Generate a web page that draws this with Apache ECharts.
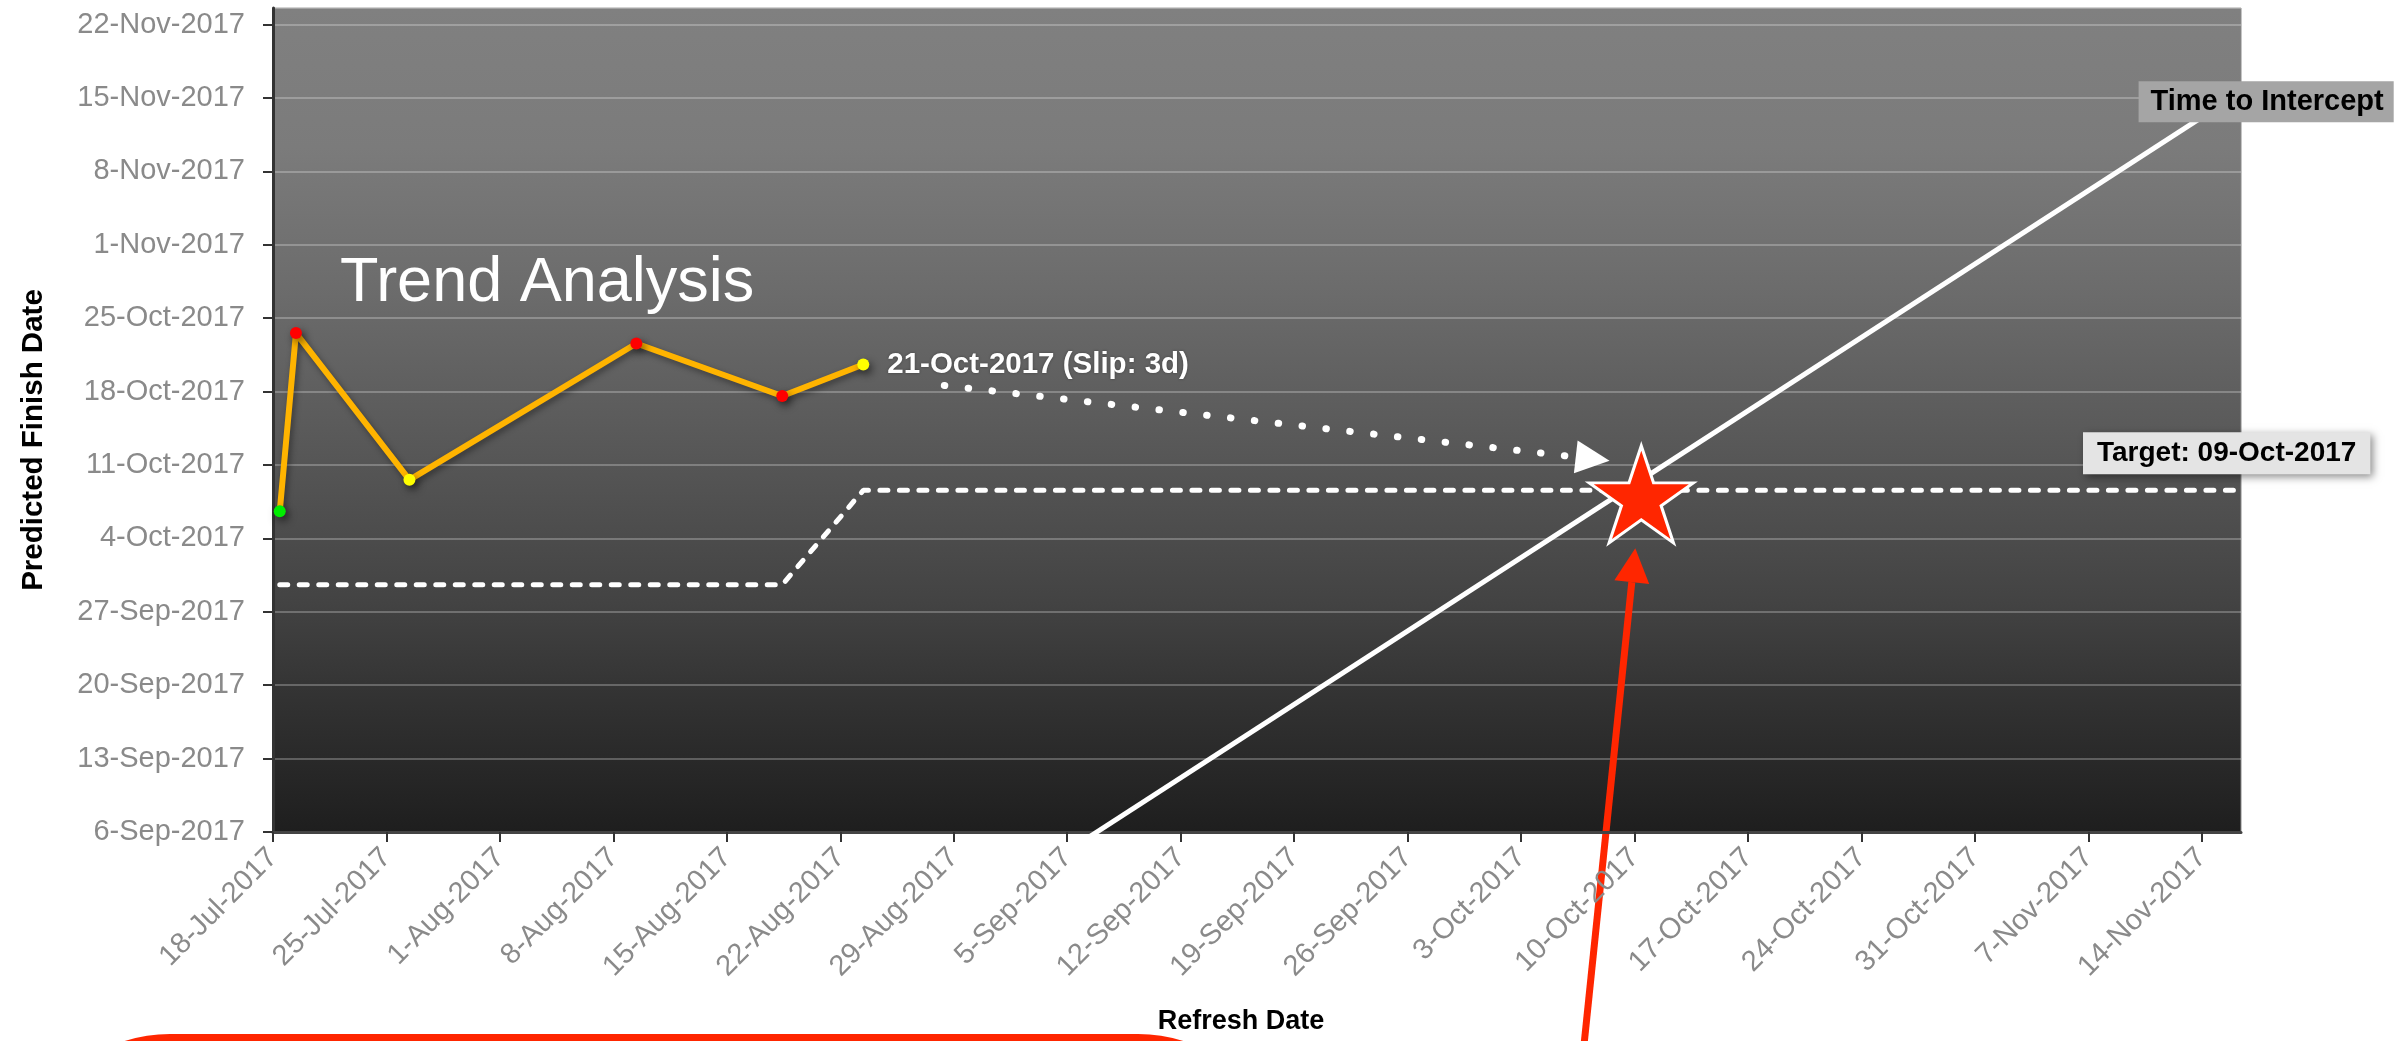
<!DOCTYPE html>
<html>
<head>
<meta charset="utf-8">
<title>Trend Analysis</title>
<script src="https://cdn.jsdelivr.net/npm/echarts@6/dist/echarts.min.js"></script>
<style>
  html, body { margin: 0; padding: 0; background: #fff; }
  #main { width: 2398px; height: 1041px; }
</style>
</head>
<body>
<div id="main"></div>
<script>
var MONTHS = ['Jan', 'Feb', 'Mar', 'Apr', 'May', 'Jun', 'Jul', 'Aug', 'Sep', 'Oct', 'Nov', 'Dec'];

// predicted finish at each schedule refresh
var refreshDates = ['18-Jul-2017', '19-Jul-2017', '26-Jul-2017', '9-Aug-2017', '18-Aug-2017', '23-Aug-2017'];
var predictedFinish = ['7-Oct-2017', '24-Oct-2017', '10-Oct-2017', '23-Oct-2017', '18-Oct-2017', '21-Oct-2017'];
var finishStatus = ['ok', 'late', 'risk', 'late', 'late', 'risk'];

// target finish (re-baselined in August)
var targetRefresh = ['18-Jul-2017', '18-Aug-2017', '23-Aug-2017', '16-Nov-2017'];
var targetFinish = ['30-Sep-2017', '30-Sep-2017', '9-Oct-2017', '9-Oct-2017'];

// time to intercept: refresh date == finish date
var interceptRefresh = ['6-Sep-2017', '14-Nov-2017'];
var interceptFinish = ['6-Sep-2017', '14-Nov-2017'];

// projection arrow and intercept star
var projectionRefresh = ['28-Aug-2017', '7-Oct-2017'];
var projectionFinish = ['19-Oct-2017', '12-Oct-2017'];
var starRefresh = '10-Oct-2017';
var starFinish = '9-Oct-2017';

// axes
var xFirstTick = '18-Jul-2017', xLast = '16-Nov-2017';
var yFirstTick = '6-Sep-2017', yLast = '24-Nov-2017';
var tickDays = 7;
// the source chart's weekly ticks sit about 10h off the data midnights
var TICK_SHIFT_H = 10;

var STATUS_COLORS = { ok: '#00ee00', late: '#ff0000', risk: '#ffff00' };
var FONT = 'Liberation Sans, Arial, sans-serif';

function dayNum(s) {
  var p = s.split('-');
  return Date.UTC(+p[2], MONTHS.indexOf(p[1]), +p[0]) / 864e5;
}
function fmtDay(d, pad) {
  var dt = new Date(Math.round(d) * 864e5);
  var dd = dt.getUTCDate();
  return (pad && dd < 10 ? '0' + dd : dd) + '-' + MONTHS[dt.getUTCMonth()] + '-' + dt.getUTCFullYear();
}
var X0 = dayNum(xFirstTick) - TICK_SHIFT_H / 24;
var Y0 = dayNum(yFirstTick) + TICK_SHIFT_H / 24;
function xv(s) { return dayNum(s) - X0; }
function yv(s) { return dayNum(s) - Y0; }

function pairs(xs, ys) {
  return xs.map(function (x, i) { return [xv(x), yv(ys[i])]; });
}

var trendData = refreshDates.map(function (d, i) {
  return {
    value: [xv(d), yv(predictedFinish[i])],
    itemStyle: { color: STATUS_COLORS[finishStatus[i]] }
  };
});
var lastIdx = predictedFinish.length - 1;
var slipDays = Math.round(dayNum(predictedFinish[lastIdx]) - dayNum(predictedFinish[lastIdx - 1]));
var slipText = predictedFinish[lastIdx] + ' (Slip: ' + slipDays + 'd)';
var targetText = 'Target: ' + fmtDay(dayNum(targetFinish[targetFinish.length - 1]), true);

var chartDom = document.getElementById('main');
var myChart = echarts.init(chartDom);
var option;

option = {
  animation: false,
  textStyle: { fontFamily: FONT },
  title: {
    text: 'Trend Analysis',
    left: 335,
    top: 247,
    textStyle: { color: '#fff', fontSize: 63, fontWeight: 'normal', fontFamily: FONT }
  },
  grid: {
    show: true,
    left: 273,
    right: 157,
    top: 8,
    bottom: 209,
    borderWidth: 1,
    borderColor: '#8a8a8a',
    backgroundColor: new echarts.graphic.LinearGradient(0, 0, 0, 1, [
      { offset: 0, color: '#808080' },
      { offset: 0.17, color: '#7b7b7b' },
      { offset: 0.35, color: '#6b6b6b' },
      { offset: 0.54, color: '#575757' },
      { offset: 0.72, color: '#434343' },
      { offset: 0.84, color: '#323232' },
      { offset: 1, color: '#1e1e1e' }
    ])
  },
  xAxis: {
    type: 'value',
    min: 0,
    max: xv(xLast),
    interval: tickDays,
    name: 'Refresh Date',
    nameLocation: 'middle',
    nameGap: 176,
    nameTextStyle: { fontSize: 27, fontWeight: 'bold', color: '#000', padding: [0, 32, 0, 0] },
    axisLine: { lineStyle: { color: '#444', width: 3 } },
    axisTick: { show: true, length: 10, lineStyle: { color: '#333', width: 2 } },
    splitLine: { show: false },
    axisLabel: {
      rotate: 45,
      margin: 21,
      verticalAlign: 'middle',
      padding: [12, 0, 0, 0],
      fontSize: 29,
      color: '#8a8a8a',
      showMaxLabel: false,
      formatter: function (v) { return fmtDay(v + X0); }
    }
  },
  yAxis: {
    type: 'value',
    min: 0,
    max: yv(yLast),
    interval: tickDays,
    name: 'Predicted Finish Date',
    nameLocation: 'middle',
    nameGap: 224,
    nameTextStyle: { fontSize: 29.5, fontWeight: 'bold', color: '#000', padding: [0, 40, 0, 0] },
    axisLine: { show: true, lineStyle: { color: '#333', width: 3 } },
    axisTick: { show: true, length: 10, lineStyle: { color: '#333', width: 2 } },
    splitLine: { show: true, lineStyle: { color: 'rgba(255,255,255,0.25)', width: 2 } },
    axisLabel: {
      margin: 28,
      fontSize: 29,
      color: '#8a8a8a',
      showMaxLabel: false,
      formatter: function (v) { return fmtDay(v + Y0); }
    }
  },
  series: [
    {
      name: 'Target',
      type: 'line',
      data: pairs(targetRefresh, targetFinish),
      symbol: 'none',
      z: 2,
      lineStyle: { color: '#fff', width: 5, type: [8, 11.5], cap: 'round' },
      endLabel: {
        show: true,
        formatter: targetText,
        offset: [-166, -37],
        color: '#000',
        fontSize: 28,
        fontWeight: 'bold',
        backgroundColor: '#e4e4e4',
        padding: [7, 14, 7, 14],
        shadowColor: 'rgba(0,0,0,0.45)',
        shadowBlur: 8,
        shadowOffsetX: 3,
        shadowOffsetY: 3
      }
    },
    {
      name: 'Time to Intercept',
      type: 'line',
      data: pairs(interceptRefresh, interceptFinish),
      symbol: 'none',
      z: 2,
      lineStyle: { color: '#fff', width: 5 },
      endLabel: {
        show: true,
        formatter: 'Time to Intercept',
        offset: [-78, -11],
        color: '#000',
        fontSize: 29,
        fontWeight: 'bold',
        backgroundColor: '#a5a5a5',
        padding: [6, 10, 6, 12]
      }
    },
    {
      name: 'Intercept',
      type: 'scatter',
      z: 5,
      data: [[xv(starRefresh), yv(starFinish)]],
      symbol: 'path://M50,0 L61.23,34.55 L97.55,34.55 L68.16,55.9 L79.39,90.45 L50,69.1 L20.61,90.45 L31.84,55.9 L2.45,34.55 L38.77,34.55 Z',
      symbolSize: [104, 97],
      symbolOffset: [0, 4],
      itemStyle: { color: '#ff2600', borderColor: '#fff', borderWidth: 3, opacity: 1 }
    },
    {
      name: 'Predicted Finish',
      type: 'line',
      z: 4,
      data: trendData,
      symbol: 'circle',
      symbolSize: 12,
      showAllSymbol: true,
      lineStyle: {
        color: '#ffb400',
        width: 6,
        shadowColor: 'rgba(0,0,0,0.4)',
        shadowBlur: 6,
        shadowOffsetX: 2,
        shadowOffsetY: 3
      },
      itemStyle: {
        shadowColor: 'rgba(0,0,0,0.55)',
        shadowBlur: 8,
        shadowOffsetX: 3,
        shadowOffsetY: 4
      },
      endLabel: {
        show: true,
        formatter: slipText,
        distance: 24,
        color: '#fff',
        fontSize: 29.5,
        fontWeight: 'bold',
        textShadowColor: 'rgba(0,0,0,0.35)',
        textShadowBlur: 3
      },
      markLine: {
        silent: true,
        animation: false,
        symbol: ['none', 'triangle'],
        symbolSize: [33, 34],
        label: { show: false },
        lineStyle: { color: '#fff', width: 7, type: [0.5, 23.5], cap: 'round' },
        data: [[
          { coord: [xv(projectionRefresh[0]), yv(projectionFinish[0])] },
          { coord: [xv(projectionRefresh[1]), yv(projectionFinish[1])] }
        ]]
      }
    }
  ]
};

option && myChart.setOption(option);

// red call-out arrow pointing at the star, plus the red box at the bottom
var star = myChart.convertToPixel({ gridIndex: 0 }, [xv(starRefresh), yv(starFinish)]);
var tip = [star[0] - 6, star[1] + 58];
var dirLen = Math.sqrt(51 * 51 + 494 * 494);
var dir = [-51 / dirLen, 494 / dirLen];
var perp = [dir[1], -dir[0]];
var headLen = 34, headHalf = 17.5;
var base = [tip[0] + dir[0] * headLen, tip[1] + dir[1] * headLen];
var RED = '#ff2600';

myChart.setOption({
  graphic: [
    {
      type: 'polyline',
      silent: true,
      shape: { points: [base, [tip[0] + dir[0] * 560, tip[1] + dir[1] * 560]] },
      style: { stroke: RED, lineWidth: 7, fill: null }
    },
    {
      type: 'polygon',
      silent: true,
      shape: {
        points: [
          tip,
          [base[0] + perp[0] * headHalf, base[1] + perp[1] * headHalf],
          [base[0] - perp[0] * headHalf, base[1] - perp[1] * headHalf]
        ]
      },
      style: { fill: RED }
    },
    {
      type: 'rect',
      silent: true,
      shape: { x: 24, y: 1038, width: 1260, height: 320, r: 146 },
      style: { fill: '#fff', stroke: RED, lineWidth: 8 }
    }
  ]
});
</script>
</body>
</html>
